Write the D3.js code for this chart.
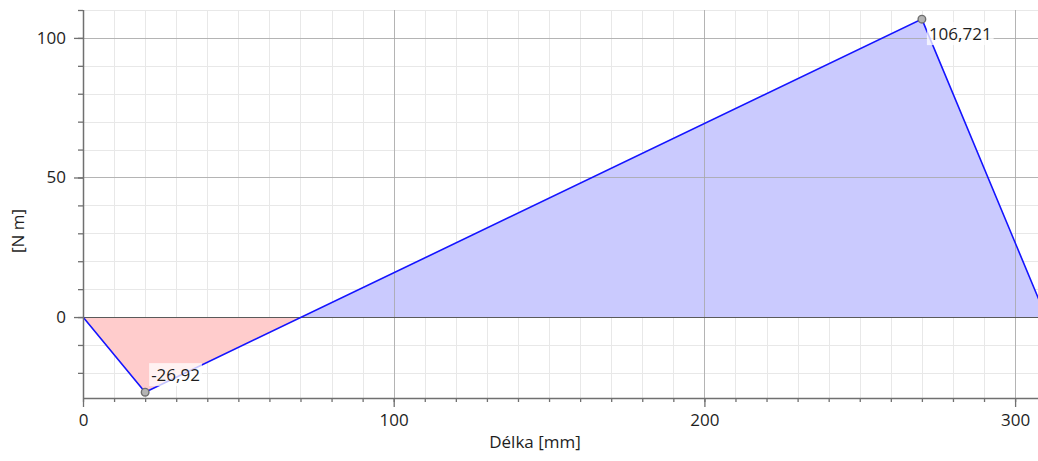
<!DOCTYPE html>
<html>
<head>
<meta charset="utf-8">
<script src="https://cdn.jsdelivr.net/npm/d3@7"></script>
<style>
  html, body { margin: 0; padding: 0; background: #fff; }
  svg { display: block; font-family: "Open Sans", "Noto Sans", sans-serif; }
</style>
</head>
<body>
<svg id="chart" width="1038" height="461"></svg>
<script>
// Bending moment along the beam
const positions = [0, 20, 270, 310];          // Délka [mm]
const moments   = [0, -26.92, 106.721, 0];    // [N m]
const labelled  = [1, 2];                     // indices of annotated extremes
const valueLabels = ["-26,92", "106,721"];

const xMajorTicks = [0, 100, 200, 300];
const yMajorTicks = [0, 50, 100];
const xMinorStep = 10, yMinorStep = 10;
const xDomain = [0, 310];
const yDomain = [-29, 110];

const xTitle = "Délka [mm]";
const yTitle = "[N m]";

const fontSize = "17px";
const svg = d3.select("#chart");
const plotLeft = 83, plotTop = 10, plotBottom = 398;
const x = d3.scaleLinear().domain(xDomain).range([plotLeft, plotLeft + 310 * 3.107]);
const y = d3.scaleLinear().domain(yDomain).range([plotBottom, plotTop]);

const data = positions.map((p, i) => ({ x: p, y: moments[i] }));

const xMinor = d3.range(xDomain[0], xDomain[1] + 0.001, xMinorStep);
const yMinor = d3.range(-20, yDomain[1] + 0.001, yMinorStep);
const xR = x.range()[1];

// minor grid
const grid = svg.append("g");
grid.selectAll(".gx").data(xMinor).join("line")
  .attr("x1", d => Math.round(x(d)) + 0.5).attr("x2", d => Math.round(x(d)) + 0.5)
  .attr("y1", plotTop).attr("y2", plotBottom)
  .attr("stroke", "#e8e8e8").attr("stroke-width", 1);
grid.selectAll(".gy").data(yMinor).join("line")
  .attr("x1", plotLeft).attr("x2", xR)
  .attr("y1", d => Math.round(y(d)) + 0.5).attr("y2", d => Math.round(y(d)) + 0.5)
  .attr("stroke", "#e8e8e8").attr("stroke-width", 1);

// filled areas: positive part blue, negative part red
const defs = svg.append("defs");
defs.append("clipPath").attr("id", "pos").append("rect")
  .attr("x", plotLeft).attr("y", plotTop).attr("width", xR - plotLeft).attr("height", y(0) - plotTop);
defs.append("clipPath").attr("id", "neg").append("rect")
  .attr("x", plotLeft).attr("y", y(0)).attr("width", xR - plotLeft).attr("height", plotBottom - y(0));

const area = d3.area().x(d => x(d.x)).y0(y(0)).y1(d => y(d.y));
svg.append("path").datum(data).attr("d", area)
  .attr("fill", "#cacafe").attr("clip-path", "url(#pos)");
svg.append("path").datum(data).attr("d", area)
  .attr("fill", "#ffcccc").attr("clip-path", "url(#neg)");

// major grid
const major = svg.append("g");
major.selectAll(".mx").data(xMajorTicks.filter(d => d > 0)).join("line")
  .attr("x1", d => Math.round(x(d)) + 0.5).attr("x2", d => Math.round(x(d)) + 0.5)
  .attr("y1", plotTop).attr("y2", plotBottom)
  .attr("stroke", "#a6a6a6").attr("stroke-opacity", 0.8);
major.selectAll(".my").data(yMajorTicks).join("line")
  .attr("x1", plotLeft).attr("x2", xR)
  .attr("y1", d => Math.round(y(d)) + 0.5).attr("y2", d => Math.round(y(d)) + 0.5)
  .attr("stroke", d => d === 0 ? "#5a5a5a" : "#a6a6a6")
  .attr("stroke-opacity", d => d === 0 ? 1 : 0.8);

// moment line
svg.append("path").datum(data)
  .attr("d", d3.line().x(d => x(d.x)).y(d => y(d.y)))
  .attr("fill", "none").attr("stroke", "#1414ff").attr("stroke-width", 1.6);

// axes
const tickColor = "#707070";
const xAxis = d3.axisBottom(x).tickValues(xMinor).tickSize(4).tickFormat("");
const gx = svg.append("g").attr("transform", `translate(0,${plotBottom})`).call(xAxis);
const xAxisMajor = d3.axisBottom(x).tickValues(xMajorTicks).tickSize(9).tickPadding(7)
  .tickFormat(d3.format("d"));
const gxm = svg.append("g").attr("transform", `translate(0,${plotBottom})`).call(xAxisMajor);

const yAxis = d3.axisLeft(y).tickValues(yMinor).tickSize(5).tickFormat("");
const gy = svg.append("g").attr("transform", `translate(${plotLeft},0)`).call(yAxis);
const yAxisMajor = d3.axisLeft(y).tickValues(yMajorTicks).tickSize(9).tickPadding(8)
  .tickFormat(d3.format("d"));
const gym = svg.append("g").attr("transform", `translate(${plotLeft},0)`).call(yAxisMajor);

[gx, gxm, gy, gym].forEach(g => {
  g.selectAll(".domain").attr("stroke", tickColor).attr("stroke-width", 1.5);
  g.selectAll(".tick line").attr("stroke", tickColor).attr("stroke-width", 1.3);
  g.selectAll(".tick text").attr("fill", "#1e1e1e")
    .style("font-size", fontSize).style("font-family", "'Open Sans', sans-serif");
});
gx.select(".domain").attr("d", `M${plotLeft},0.5H${xR}`);
gxm.select(".domain").remove();
gym.select(".domain").remove();
gy.select(".domain").attr("d", `M0.5,${plotTop}V${plotBottom}`);

// axis titles
svg.append("text").attr("x", 535).attr("y", 448).attr("text-anchor", "middle")
  .attr("fill", "#1e1e1e").style("font-size", fontSize).text(xTitle);
svg.append("text").attr("transform", "translate(24,231) rotate(-90)")
  .attr("text-anchor", "middle").attr("fill", "#1e1e1e").style("font-size", fontSize).text(yTitle);

// extreme markers with value labels
const labelOffsets = [[6, -17], [7, 15]];
labelled.forEach((idx, k) => {
  const d = data[idx];
  const px = x(d.x), py = y(d.y);
  const g = svg.append("g");
  const t = g.append("text")
    .attr("x", px + labelOffsets[k][0]).attr("y", py + labelOffsets[k][1])
    .attr("dy", "0.35em").attr("fill", "#1e1e1e").style("font-size", fontSize)
    .text(valueLabels[k]);
  const bb = t.node().getBBox();
  g.insert("rect", "text")
    .attr("x", bb.x - 2).attr("y", bb.y).attr("width", bb.width + 4).attr("height", bb.height)
    .attr("fill", "#fff").attr("fill-opacity", 0.75);
  svg.append("circle").attr("cx", px).attr("cy", py).attr("r", 3.8)
    .attr("fill", "#b4b4b4").attr("stroke", "#6e6e6e").attr("stroke-width", 1.4);
});
</script>
</body>
</html>
